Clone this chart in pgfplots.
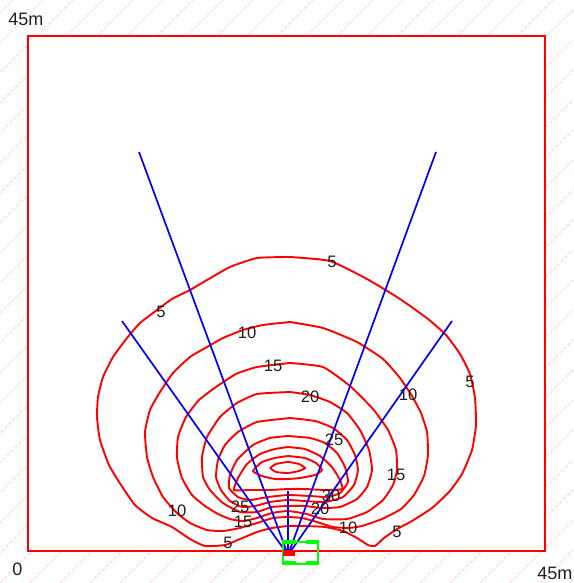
\documentclass[border=0pt]{standalone}
\usepackage{fontspec}
\setmainfont{Liberation Sans}
\usepackage{pgfplots}
\pgfplotsset{compat=1.18}
\definecolor{hatchc}{RGB}{250,212,212}
\definecolor{cred}{RGB}{255,0,0}
\definecolor{cblue}{RGB}{0,0,255}
\definecolor{cgreen}{RGB}{0,255,0}
\begin{document}
\begin{tikzpicture}
\path (0,0) rectangle (286.5pt,291.5pt);
\begin{scope}
\clip (0,0) rectangle (286.5pt,291.5pt);
\foreach \a in {-600,-570,...,600} {
  \draw[hatchc, line width=0.5pt, dash pattern=on 2pt off 0.8pt] ({\a*0.5pt},0pt) -- ({(\a+583)*0.5pt},291.5pt);
}
\end{scope}
\begin{axis}[at={(0,0)}, anchor=south west, scale only axis,
  width=286.5pt, height=291.5pt, xmin=0, xmax=573, ymin=0, ymax=583,
  y dir=reverse, hide axis, clip=false]
% field square
\addplot[draw=cred, line width=0.85pt, fill=white] coordinates {(28,36) (545,36) (545,551) (28,551)} -- cycle;
% contours (level 5 ... 45)
\addplot[cred, line width=0.95pt, smooth, tension=0.3] coordinates {
(290,257)(330,261)(367,279)(400,299)(428,319)(446,335)(460,354)(470,374)(475,398)(476,425)(472,450)(462,474)(449,492)(432,508)(412,521)(397,529)(384,538)(375,546)(368,545)(357,538)(343,531)(325,527)(305,526)(288,526)(272,528)(257,532)(240,539)(225,545)(205,546)(190,539)(172,527)(152,518)(135,505)(121,485)(109,465)(100,440)(97,417)(98,397)(103,377)(113,357)(127,338)(140,323)(157,310)(172,299)(190,290)(207,280)(230,267)(257,258)(290,257)};
\addplot[cred, line width=0.95pt, smooth, tension=0.3] coordinates {
(290,322)(323,328)(357,342)(383,359)(400,378)(412,396)(421,413)(427,432)(428,455)(424,476)(414,495)(401,509)(382,519)(362,526)(348,528)(333,527)(317,522)(302,518)(288,517)(273,518)(257,523)(240,528)(223,531)(207,530)(190,523)(177,513)(163,497)(153,477)(147,457)(145,432)(150,410)(160,392)(173,373)(190,357)(207,347)(223,338)(243,330)(263,325)(290,322)};
\addplot[cred, line width=0.95pt, smooth, tension=0.3] coordinates {
(290,363)(323,367)(350,386)(373,409)(388,430)(396,450)(397,470)(393,485)(383,500)(367,512)(347,519)(323,519)(307,514)(288,511)(272,513)(257,518)(243,521)(230,519)(218,514)(205,506)(192,495)(182,478)(177,458)(178,437)(186,417)(199,400)(216,387)(236,374)(257,367)(290,363)};
\addplot[cred, line width=0.95pt, smooth, tension=0.3] coordinates {
(290,392)(310,395)(330,402)(347,413)(360,430)(369,450)(372,470)(367,487)(357,499)(340,507)(322,508)(305,506)(288,506)(272,507)(257,512)(240,512)(223,503)(210,490)(203,477)(202,457)(207,437)(220,417)(237,403)(257,394)(290,392)};
\addplot[cred, line width=0.95pt, smooth, tension=0.3] coordinates {
(290,418)(315,421)(333,428)(347,440)(355,455)(358,470)(354,485)(343,497)(325,502)(305,501)(288,500)(270,502)(255,506)(242,507)(230,501)(221,490)(216,477)(218,460)(225,445)(238,432)(257,422)(290,418)};
\addplot[cred, line width=0.95pt, smooth, tension=0.3] coordinates {
(288,436)(310,438)(325,443)(337,453)(345,467)(348,482)(340,493)(328,497)(310,496)(288,495)(268,497)(250,500)(238,497)(229,488)(230,475)(237,460)(253,445)(270,438)(288,436)};
\addplot[cred, line width=0.95pt, smooth, tension=0.3] coordinates {
(288,447)(305,449)(320,456)(332,467)(340,480)(342,489)(325,490)(305,489)(288,489)(270,490)(250,490)(234,490)(238,478)(247,464)(260,454)(275,449)(288,447)};
\addplot[cred, line width=0.95pt, smooth, tension=0.3] coordinates {
(288,456)(305,458)(316,463)(322,470)(315,475)(300,478)(288,479)(275,479)(262,476)(253,471)(262,462)(275,458)(288,456)};
\addplot[cred, line width=0.95pt, smooth, tension=0.3] coordinates {
(270,468)(276,464)(288,462)(299,464)(305,468)(299,471)(288,473)(276,472)(270,468)};
% rays
\addplot[cblue, line width=0.85pt] coordinates {(122,321)(288,555)};
\addplot[cblue, line width=0.85pt] coordinates {(139,152)(288,555)};
\addplot[cblue, line width=0.85pt] coordinates {(288,491)(288,555)};
\addplot[cblue, line width=0.85pt] coordinates {(436,152)(288,555)};
\addplot[cblue, line width=0.85pt] coordinates {(452,321)(288,555)};
% transmitter box
\addplot[cgreen, line width=1.0pt] coordinates {(283,541.5)(318,541.5)(318,563.5)(283,563.5)} -- cycle;
\addplot[cgreen, line width=1.6pt] coordinates {(282,542)(296,542)};
\addplot[cgreen, line width=1.6pt] coordinates {(306,542)(319,542)};
\addplot[cgreen, line width=1.6pt] coordinates {(282,563)(296,563)};
\addplot[cgreen, line width=1.6pt] coordinates {(306,563)(319,563)};
\addplot[fill=cred, draw=none] coordinates {(283,550)(295,550)(295,555.5)(283,555.5)} -- cycle;
% contour labels
\begin{scope}[every node/.style={font=\fontsize{8.3}{9}\selectfont, inner sep=0pt, text=black!88}]
\node at (axis cs:332,262) {5};
\node at (axis cs:161,312) {5};
\node at (axis cs:470,382) {5};
\node at (axis cs:228,543) {5};
\node at (axis cs:397,532) {5};
\node at (axis cs:247,333) {10};
\node at (axis cs:408,395) {10};
\node at (axis cs:177,511) {10};
\node at (axis cs:348,528) {10};
\node at (axis cs:273,366) {15};
\node at (axis cs:396,475) {15};
\node at (axis cs:243,522) {15};
\node at (axis cs:310,397) {20};
\node at (axis cs:320,509) {20};
\node at (axis cs:334,440) {25};
\node at (axis cs:240,507) {25};
\node at (axis cs:331,496) {30};
\end{scope}
\begin{scope}[every node/.style={font=\fontsize{9}{10}\selectfont, inner sep=0pt, text=black!88}]
\node[anchor=base west] at (axis cs:8,25.5) {45m};
\node[anchor=base west] at (axis cs:12,575.5) {0};
\node[anchor=base west] at (axis cs:537,579.5) {45m};
\end{scope}
\end{axis}
\pgfresetboundingbox
\path (0,0) rectangle (286.5pt,291.5pt);
\end{tikzpicture}
\end{document}
